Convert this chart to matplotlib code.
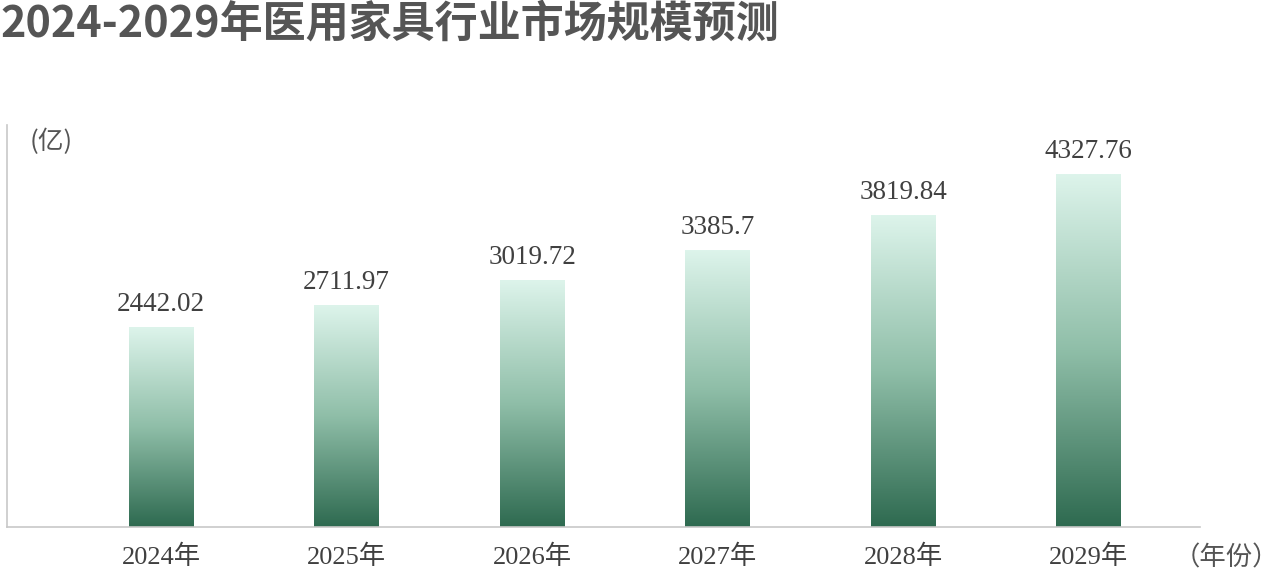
import matplotlib
matplotlib.use("Agg")
import matplotlib.pyplot as plt
import numpy as np
from matplotlib.colors import LinearSegmentedColormap

years = ["2024年", "2025年", "2026年", "2027年", "2028年", "2029年"]
values = [2442.02, 2711.97, 3019.72, 3385.7, 3819.84, 4327.76]
value_labels = ["2442.02", "2711.97", "3019.72", "3385.7", "3819.84", "4327.76"]
title = "2024-2029年医用家具行业市场规模预测"
unit_label = "(亿)"
xaxis_label = "（年份）"

serif = ["Liberation Serif", "Noto Sans CJK SC"]
cjk = ["Noto Sans CJK SC", "DejaVu Sans"]

fig = plt.figure(figsize=(12.8, 5.75), dpi=100)
ax = fig.add_axes([7 / 1280, 48 / 575, 1193 / 1280, 402 / 575])

cmap = LinearSegmentedColormap.from_list(
    "g", [(0.0, "#2e6a50"), (0.5, "#8fbea8"), (1.0, "#ddf4eb")])
grad = np.linspace(0, 1, 256).reshape(-1, 1)

x = np.arange(len(values))
width = 0.35
for xi, v, lab in zip(x, values, value_labels):
    ax.imshow(grad, extent=(xi - width / 2, xi + width / 2, 0, v),
              origin="lower", cmap=cmap, aspect="auto", zorder=2)
    ax.text(xi, v + 130, lab, ha="center", va="bottom", fontsize=19.5,
            family=serif, color="#404040")

ax.set_xlim(-0.83, 5.6)
ax.set_ylim(0, 4930)
ax.set_xticks(x)
ax.set_xticklabels(years, family=serif, fontsize=19, color="#404040")
ax.tick_params(axis="x", length=0, pad=13)
ax.set_yticks([])
for s in ["top", "right"]:
    ax.spines[s].set_visible(False)
ax.spines["left"].set_color("#c8c8c8")
ax.spines["bottom"].set_color("#c8c8c8")
ax.spines["left"].set_linewidth(1.2)
ax.spines["bottom"].set_linewidth(1.2)

fig.text(0, 575 - 24, title, ha="left", va="center", transform=None,
         fontsize=31, fontweight="bold", family=cjk, color="#555555")
fig.text(30 / 1280, 1 - 142 / 575, unit_label, ha="left", va="center",
         fontsize=18.5, family=cjk, color="#555555")
fig.text(1226 / 1280, 1 - 558 / 575, xaxis_label, ha="center", va="center",
         fontsize=19, family=cjk, color="#555555")

fig.savefig("out.png", dpi=100)
